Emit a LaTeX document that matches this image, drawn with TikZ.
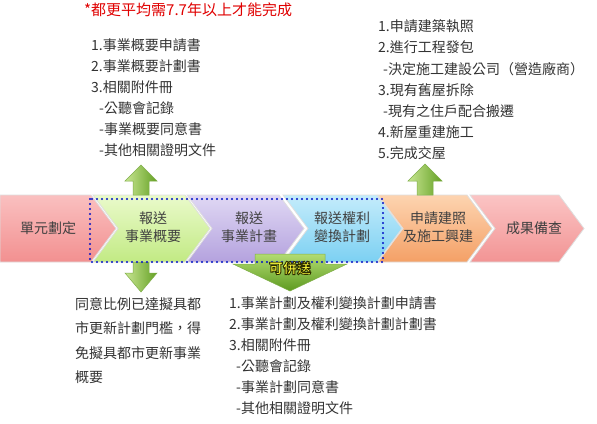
\documentclass[tikz,border=0pt]{standalone}
\usepackage{fontspec}
\newfontfamily\cjk{Noto Sans CJK TC}
\definecolor{txt}{HTML}{333333}
\definecolor{lbl}{HTML}{404040}
\definecolor{redtxt}{HTML}{E00000}
\definecolor{dotblue}{HTML}{0010C8}
\definecolor{yellowtxt}{HTML}{FFFF3C}
\definecolor{ch1t}{HTML}{FAC0C0}\definecolor{ch1b}{HTML}{F29090}
\definecolor{ch2t}{HTML}{EAFACB}\definecolor{ch2b}{HTML}{C2EA84}
\definecolor{ch3t}{HTML}{E0D8F4}\definecolor{ch3b}{HTML}{B4A2DE}
\definecolor{ch4t}{HTML}{C4ECFB}\definecolor{ch4b}{HTML}{7CD0F2}
\definecolor{ch5t}{HTML}{FDD4B0}\definecolor{ch5b}{HTML}{F4A066}
\definecolor{ch6t}{HTML}{FBC4C4}\definecolor{ch6b}{HTML}{F29494}
\definecolor{garL}{HTML}{C8E692}\definecolor{garR}{HTML}{64A024}
\definecolor{garD}{HTML}{7FAE48}
\definecolor{bigT}{HTML}{B2DC72}\definecolor{bigB}{HTML}{5E9A20}
\newcommand\outlinetext[1]{{\color{yellowtxt}\special{pdf:code 2 Tr 0.9 w 0.18 0.18 0 RG}#1\special{pdf:code 0 Tr}}}
\tikzset{
  chevbox/.style={draw=white!75!gray, line width=0.8pt},
  chevlabel/.style={font=\cjk\fontsize{14}{16}\selectfont, text=lbl, inner sep=0pt, align=center},
  listline/.style={font=\cjk\fontsize{14}{16}\selectfont, text=txt, inner sep=0pt, anchor=west},
  greenarrow/.style={draw=garD, line width=0.5pt, left color=garL, right color=garR},
  bigarrow/.style={draw=garD, line width=0.5pt, top color=bigT, bottom color=bigB},
  dotframe/.style={draw=dotblue, line width=2.4pt, dash pattern=on 0pt off 5pt, line cap=round}
}
\newcommand\mychev[5]{% x0, body width, top colour, bottom colour, notch (1/0)
  \ifnum#5=1
    \path[chevbox, top color=#3, bottom color=#4] (#1,195) -- ({#1+#2},195) -- ({#1+#2+25},228.5) -- ({#1+#2},262) -- (#1,262) -- ({#1+25},228.5) -- cycle;
  \else
    \path[chevbox, top color=#3, bottom color=#4] (#1,195) -- ({#1+#2},195) -- ({#1+#2+25},228.5) -- ({#1+#2},262) -- (#1,262) -- cycle;
  \fi}
\begin{document}
\begin{tikzpicture}[x=1pt,y=-1pt]
\useasboundingbox[fill=white] (0,0) rectangle (597,423);

% chevrons
\mychev{0}{91}{ch1t}{ch1b}{0}
\mychev{93}{92}{ch2t}{ch2b}{1}
\mychev{187}{92}{ch3t}{ch3b}{1}
\mychev{283}{94}{ch4t}{ch4b}{1}
\mychev{378}{89}{ch5t}{ch5b}{1}
\mychev{470}{89}{ch6t}{ch6b}{1}

\node[chevlabel] (c1) at (48,228.5) {單元劃定};
\node[chevlabel] (c2) at (153,227) {報送\\[2pt]事業概要};
\node[chevlabel] (c3) at (249,227) {報送\\[2pt]事業計畫};
\node[chevlabel] (c4) at (342,227) {報送權利\\[2pt]變換計劃};
\node[chevlabel] (c5) at (438,227) {申請建照\\[2pt]及施工興建};
\node[chevlabel] (c6) at (534,228.5) {成果備查};

% green small arrows
\path[greenarrow] (133,195) -- (133,181) -- (125,181) -- (141,165) -- (157,181) -- (149,181) -- (149,195) -- cycle;
\path[greenarrow] (133,262) -- (133,273) -- (125,273) -- (141,292) -- (157,273) -- (149,273) -- (149,262) -- cycle;
\path[greenarrow] (417,195) -- (417,181) -- (408,181) -- (425,164) -- (442,181) -- (433,181) -- (433,195) -- cycle;

% big combined arrow
\path[bigarrow] (255,254) -- (325,254) -- (325,264) -- (347,264) -- (290,291) -- (233,264) -- (255,264) -- cycle;

% dotted frame
\path[dotframe] (90,199) rectangle (383,262);

\node[font=\cjk\bfseries\fontsize{14}{16}\selectfont, inner sep=0pt] (merge) at (290,268) {\outlinetext{可併送}};

% red note
\node[font=\cjk\fontsize{15}{17}\selectfont, text=redtxt, inner sep=0pt, anchor=west] (note) at (84,10) {*都更平均需7.7年以上才能完成};

% top-left list
\node[listline] (a1) at (91,45) {1.事業概要申請書};
\node[listline] (a2) at (91,66) {2.事業概要計劃書};
\node[listline] (a3) at (91,87) {3.相關附件冊};
\node[listline] (a4) at (99,108) {-公聽會記錄};
\node[listline] (a5) at (99,129) {-事業概要同意書};
\node[listline] (a6) at (99,150) {-其他相關證明文件};

% top-right list
\node[listline] (b1) at (378,26) {1.申請建築執照};
\node[listline] (b2) at (378,47) {2.進行工程發包};
\node[listline] (b3) at (383,69) {-決定施工建設公司（營造廠商）};
\node[listline] (b4) at (378,90) {3.現有舊屋拆除};
\node[listline] (b5) at (383,111) {-現有之住戶配合搬遷};
\node[listline] (b6) at (378,132) {4.新屋重建施工};
\node[listline] (b7) at (378,153) {5.完成交屋};

% bottom-left paragraph
\node[listline] (p1) at (75,304) {同意比例已達擬具都};
\node[listline] (p2) at (75,328.5) {市更新計劃門檻，得};
\node[listline] (p3) at (75,353) {免擬具都市更新事業};
\node[listline] (p4) at (75,377.5) {概要};

% bottom-middle list
\node[listline] (d1) at (229,303) {1.事業計劃及權利變換計劃申請書};
\node[listline] (d2) at (229,324) {2.事業計劃及權利變換計劃計劃書};
\node[listline] (d3) at (229,345) {3.相關附件冊};
\node[listline] (d4) at (236,366) {-公聽會記錄};
\node[listline] (d5) at (236,387) {-事業計劃同意書};
\node[listline] (d6) at (236,408) {-其他相關證明文件};
\end{tikzpicture}
\end{document}
